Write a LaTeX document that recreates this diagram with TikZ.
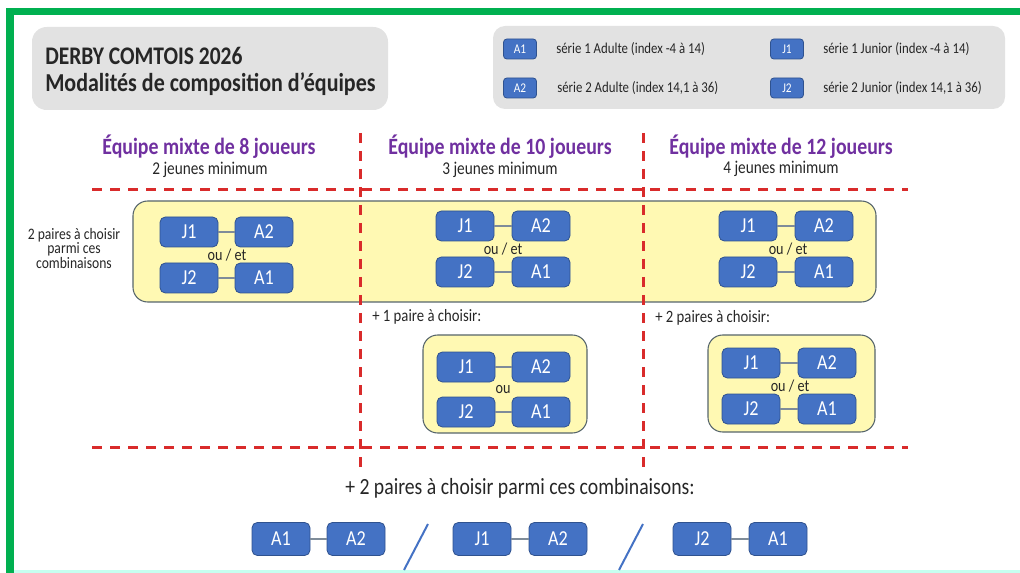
\documentclass[tikz,border=0pt]{standalone}
\usepackage{fontspec}
\setmainfont{Carlito}[FakeStretch=0.85]
\definecolor{framegreen}{HTML}{00B050}
\definecolor{cyanline}{HTML}{C6FFF0}
\definecolor{panelgray}{HTML}{E2E2E2}
\definecolor{boxyellow}{HTML}{FFF9B3}
\definecolor{boxborder}{HTML}{56656B}
\definecolor{chipblue}{HTML}{4472C4}
\definecolor{chipborder}{HTML}{2F528F}
\definecolor{dashred}{HTML}{D92B2B}
\definecolor{headpurple}{HTML}{7030A0}
\definecolor{txtdark}{HTML}{262626}
\definecolor{linkgray}{HTML}{7F8C99}
\begin{document}
\begin{tikzpicture}[x=0.75pt,y=-0.75pt,
  chip/.style={draw=chipborder, fill=chipblue, rounded corners=4pt, minimum width=43.5pt, minimum height=22.5pt, inner sep=0pt, text=white, font=\fontsize{16}{16}\selectfont, line width=0.6pt},
  bchip/.style={chip, minimum height=24.75pt},
  lchip/.style={chip, minimum width=24.75pt, minimum height=15pt, rounded corners=2.5pt, font=\fontsize{10}{10}\selectfont},
  ybox/.style={draw=boxborder, fill=boxyellow, rounded corners=11pt, line width=0.8pt},
  reddash/.style={draw=dashred, line width=2.25pt, dash pattern=on 7.5pt off 6pt},
  link/.style={draw=linkgray, line width=0.8pt},
  txt/.style={inner sep=0pt, text=txtdark},
  head/.style={inner sep=0pt, text=headpurple, font=\bfseries\fontsize{17.5}{17.5}\selectfont},
  sub/.style={txt, font=\fontsize{13.5}{13.5}\selectfont},
  ouet/.style={txt, font=\fontsize{12.5}{12.5}\selectfont},
  legtxt/.style={txt, anchor=west, font=\fontsize{11.3}{11.3}\selectfont},
  lefttxt/.style={txt, anchor=base, font=\fontsize{12}{12}\selectfont},
]
\useasboundingbox (0,0) rectangle (1020,573);
% frame
\fill[framegreen] (6,8) rectangle (14,573);
\fill[framegreen] (6,8) rectangle (1020,15);
\fill[cyanline] (14,570) rectangle (1020,573);

% title panel
\fill[panelgray, rounded corners=11pt] (32,27) rectangle (388,110);
\node[txt, anchor=base west, font=\bfseries\fontsize{19}{19}\selectfont] (title1) at (45,65) {DERBY COMTOIS 2026};
\node[txt, anchor=base west, font=\bfseries\fontsize{19.4}{19.4}\selectfont] (title2) at (45,92) {Modalités de composition d’équipes};

% legend panel
\fill[panelgray, rounded corners=9pt] (493,26) rectangle (1005,109);
\node[lchip] (la1) at (520,49) {A1};
\node[lchip] (la2) at (520,88) {A2};
\node[lchip] (lj1) at (787,49) {J1};
\node[lchip] (lj2) at (787,88) {J2};
\node[legtxt] (lta1) at (556,49) {série 1 Adulte (index -4 à 14)};
\node[legtxt] (lta2) at (557,88) {série 2 Adulte (index 14,1 à 36)};
\node[legtxt] (ltj1) at (823,49) {série 1 Junior (index -4 à 14)};
\node[legtxt] (ltj2) at (823,88) {série 2 Junior (index 14,1 à 36)};

% headings
\node[head, anchor=base] (h1) at (209,155) {Équipe mixte de 8 joueurs};
\node[sub, anchor=base] (s1) at (210,175) {2 jeunes minimum};
\node[head, anchor=base] (h2) at (500,155) {Équipe mixte de 10 joueurs};
\node[sub, anchor=base] (s2) at (500,175) {3 jeunes minimum};
\node[head, anchor=base] (h3) at (781,155) {Équipe mixte de 12 joueurs};
\node[sub, anchor=base] (s3) at (781,174) {4 jeunes minimum};

% yellow boxes
\draw[ybox] (133,201) rectangle (876,302);
\draw[ybox] (423,335) rectangle (587,433);
\draw[ybox] (708,335) rectangle (875,432);

% red dashed grid
\draw[reddash] (92,190) -- (908,190);
\draw[reddash] (92,447) -- (908,447);
\draw[reddash] (360,133) -- (360,474);
\draw[reddash] (643,133) -- (643,474);

% left label
\node[lefttxt] (lab1) at (74,240) {2 paires à choisir};
\node[lefttxt] (lab2) at (74,254) {parmi ces};
\node[lefttxt] (lab3) at (74,269) {combinaisons};

% column 1
\node[chip] (c1j1) at (189,232) {J1};
\node[chip] (c1a2) at (264,232) {A2};
\node[chip] (c1j2) at (189,278) {J2};
\node[chip] (c1a1) at (264,278) {A1};
\draw[link] (c1j1) -- (c1a2);
\draw[link] (c1j2) -- (c1a1);
\node[ouet] (o1) at (227,255) {ou / et};

% column 2
\node[chip] (c2j1) at (465,226) {J1};
\node[chip] (c2a2) at (541,226) {A2};
\node[chip] (c2j2) at (465,272) {J2};
\node[chip] (c2a1) at (541,272) {A1};
\draw[link] (c2j1) -- (c2a2);
\draw[link] (c2j2) -- (c2a1);
\node[ouet] (o2) at (503,249) {ou / et};

% column 3
\node[chip] (c3j1) at (748,226) {J1};
\node[chip] (c3a2) at (824,226) {A2};
\node[chip] (c3j2) at (748,272) {J2};
\node[chip] (c3a1) at (824,272) {A1};
\draw[link] (c3j1) -- (c3a2);
\draw[link] (c3j2) -- (c3a1);
\node[ouet] (o3) at (788,249) {ou / et};

% extra pair texts
\node[txt, anchor=base west, font=\fontsize{13}{13}\selectfont] (p1) at (372,322) {+ 1 paire à choisir:};
\node[txt, anchor=base west, font=\fontsize{13}{13}\selectfont] (p2) at (655,323) {+ 2 paires à choisir:};

% box 2
\node[chip] (b2j1) at (466,367) {J1};
\node[chip] (b2a2) at (541,367) {A2};
\node[chip] (b2j2) at (466,412) {J2};
\node[chip] (b2a1) at (541,412) {A1};
\draw[link] (b2j1) -- (b2a2);
\draw[link] (b2j2) -- (b2a1);
\node[ouet] (o4) at (503,390) {ou};

% box 3
\node[chip] (b3j1) at (751,363) {J1};
\node[chip] (b3a2) at (827,363) {A2};
\node[chip] (b3j2) at (751,409) {J2};
\node[chip] (b3a1) at (827,409) {A1};
\draw[link] (b3j1) -- (b3a2);
\draw[link] (b3j2) -- (b3a1);
\node[ouet] (o5) at (790,386) {ou / et};

% bottom
\node[txt, anchor=base, font=\fontsize{17.4}{17.4}\selectfont] (bt) at (520,494) {+ 2 paires à choisir parmi ces combinaisons:};
\node[bchip] (d1) at (281,539) {A1};
\node[bchip] (d2) at (356,539) {A2};
\node[bchip] (d3) at (482,539) {J1};
\node[bchip] (d4) at (558,539) {A2};
\node[bchip] (d5) at (702,539) {J2};
\node[bchip] (d6) at (778,539) {A1};
\draw[link] (d1) -- (d2);
\draw[link] (d3) -- (d4);
\draw[link] (d5) -- (d6);
\coordinate (s1a) at (428,524);
\coordinate (s1b) at (404,570);
\coordinate (s2a) at (643,524);
\coordinate (s2b) at (619,570);
\draw[chipblue, line width=1.5pt] (s1a) -- (s1b);
\draw[chipblue, line width=1.5pt] (s2a) -- (s2b);
\end{tikzpicture}
\end{document}
